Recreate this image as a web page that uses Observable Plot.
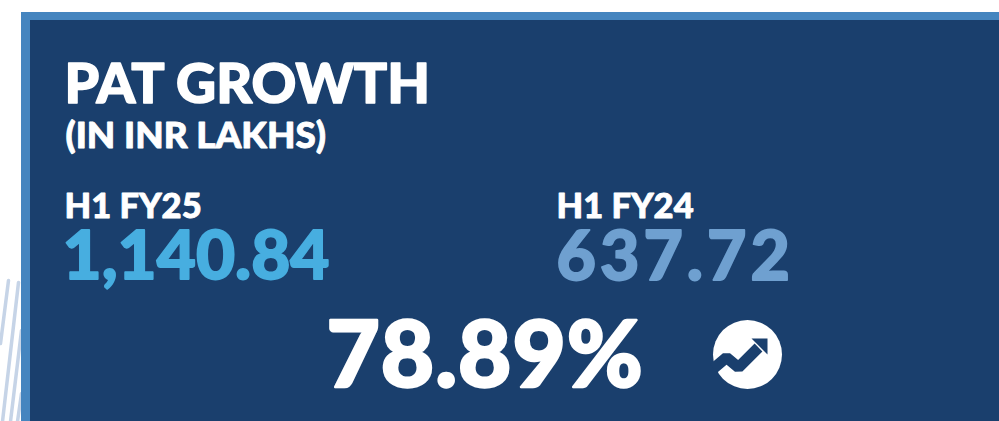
<!DOCTYPE html>
<html><head><meta charset="utf-8">
<script src="https://cdn.jsdelivr.net/npm/d3@7"></script>
<script src="https://cdn.jsdelivr.net/npm/@observablehq/plot@0.6"></script>
<style>html,body{margin:0;padding:0;background:#fff;overflow:hidden}svg{display:block}</style>
</head><body><div id="c"></div>
<script>
const title = "PAT GROWTH";
const subtitle = "(IN INR LAKHS)";
const periods = ["H1 FY25", "H1 FY24"];
const values = [1140.84, 637.72];
const growth = 78.89;
const fmt = d3.format(",.2f");
const navy = "#1A3F6D", mid = "#4585BF";
const font = "Lato";
const txt = (s, x, y, size, fill, sw = 1) => Plot.text([s], {
  x: () => x, y: () => y, text: d => d, textAnchor: "start", lineAnchor: "bottom",
  fontFamily: font, fontWeight: 900, fontSize: size, fill, stroke: fill, strokeWidth: sw });
const seg = (pts, o) => Plot.line(pts, {x: d => d[0], y: d => d[1], ...o});
const stripe = {stroke: "#c6d4e7", strokeWidth: 3.5};
const chart = Plot.plot({
  width: 999, height: 421, margin: 0,
  x: {domain: [0, 999], range: [0, 999], axis: null},
  y: {domain: [0, 421], range: [0, 421], axis: null},
  style: {background: "#fff"},
  marks: [
    seg([[8, 280], [0, 343]], stripe),
    seg([[18, 282], [2, 421]], stripe),
    seg([[21, 330], [10, 421]], stripe),
    seg([[21, 393], [17, 421]], stripe),
    Plot.rect([0], {x1: () => 21, x2: () => 999, y1: () => 12, y2: () => 421, fill: mid}),
    Plot.rect([0], {x1: () => 30, x2: () => 999, y1: () => 20, y2: () => 421, fill: navy}),
    txt(title, 64, 102, 55.3, "#fff", 1.5),
    txt(subtitle, 65, 147, 36.8, "#fff", 0.9),
    txt(periods[0], 64, 217, 34.5, "#fff", 0.9),
    txt(periods[1], 556, 217, 34.5, "#fff", 0.9),
    txt(fmt(values[0]), 62, 278, 67.5, "#47AEE0", 1.8),
    txt(fmt(values[1]), 556, 279, 68, "#6FA0D0", 1.8),
    txt(growth.toFixed(2) + "%", 326, 386, 92, "#fff", 2.5),
    Plot.dot([0], {x: () => 747, y: () => 354, r: 34.5, fill: "#fff"}),
    seg([[713, 368], [726, 357], [738, 367], [758, 347]], {stroke: navy, strokeWidth: 11, strokeLinejoin: "miter", strokeLinecap: "butt"}),
    Plot.line([[751, 338], [767, 338], [767, 354], [751, 338]], {x: d => d[0], y: d => d[1], fill: navy, stroke: "none"})
  ]
});
document.getElementById("c").append(chart);
// tracking for the wider figures
chart.querySelectorAll('g[aria-label="text"] text').forEach(t => {
  if (t.textContent === fmt(values[1])) t.setAttribute("letter-spacing", "4");
  if (t.textContent.endsWith("%")) t.setAttribute("letter-spacing", "1");
});
</script></body></html>
